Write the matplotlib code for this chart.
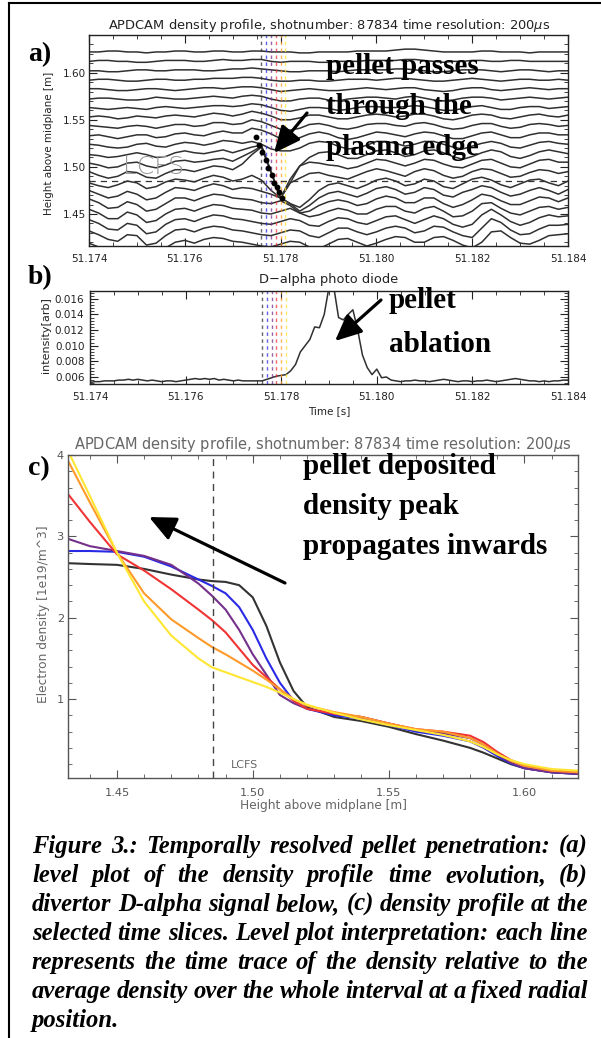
import numpy as np
import matplotlib
matplotlib.use('Agg')
import matplotlib.pyplot as plt
from matplotlib.ticker import MultipleLocator, FixedLocator
from matplotlib.lines import Line2D
from matplotlib.patches import FancyArrowPatch

W, H = 601, 1038

# ---------------- data ----------------
title_profile = "APDCAM density profile, shotnumber: 87834 time resolution: 200$\\mu$s"
title_dalpha = "D\u2212alpha photo diode"

level_t0 = 51.174
level_dt = 0.0002
level_base = [1.622, 1.612, 1.602, 1.592, 1.582, 1.572, 1.562, 1.553, 1.543, 1.533,
              1.523, 1.513, 1.503, 1.493, 1.483, 1.473, 1.463, 1.453, 1.443, 1.433, 1.423]
# deviation of each trace (mm), one value per 200 us
level_dev = [
    [0,0,1,1,0,0,-1,0,0,1, 1,0,0,1,1,0,0,1,1,0, 0,0,-1,-1,0,0,0,0,1,1, 1,1,2,3,3,2,1,0,0,0, 0,1,1,0,0,0,-1,0,0,0, 0],
    [0,1,1,0,0,-1,-1,0,1,1, 1,0,0,1,2,1,1,2,2,0, -1,0,0,0,-1,-1,0,0,0,1, 1,1,1,2,2,1,0,-1,0,0, 1,1,0,0,1,1,0,0,0,0, 0],
    [0,0,-1,-1,0,1,1,0,0,1, 1,1,0,0,1,2,2,3,2,1, 0,-1,-1,0,0,0,-1,0,1,1, 1,1,2,2,1,0,-1,-1,0,1, 1,1,0,-1,0,1,1,0,-1,0, 0],
    [0,1,1,0,-1,-1,0,1,1,0, 0,1,1,2,2,2,3,3,2,0, -1,-1,0,0,-1,-1,0,1,1,1, 0,1,2,2,1,0,-1,-1,0,1, 2,1,0,-1,0,1,1,0,0,1, 0],
    [1,1,0,-1,-1,0,1,1,0,-1, 0,1,2,2,1,2,3,3,2,0, -2,-1,0,1,0,-1,-1,0,1,2, 1,0,1,2,2,0,-1,-2,-1,1, 2,2,0,-1,0,1,2,1,0,1, 1],
    [0,1,1,0,-1,-1,0,2,1,0, 0,1,2,3,2,1,3,4,3,0, -2,-2,0,1,1,-1,-2,0,1,2, 2,1,0,2,3,1,-1,-2,-1,1, 2,2,1,-1,0,1,2,1,0,1, 2],
    [1,0,-1,0,1,0,-1,1,2,1, 0,1,2,3,3,2,3,5,4,1, -2,-3,-1,1,1,0,-2,-1,1,2, 2,1,1,2,3,2,0,-2,-2,0, 2,3,1,-1,-1,1,2,2,0,1, 2],
    [0,1,0,-2,-1,1,0,-1,1,2, 1,0,2,4,3,1,3,6,4,1, -3,-3,-1,2,2,0,-2,-2,0,2, 3,2,0,1,3,3,1,-2,-3,-1, 2,3,2,-1,-2,0,2,3,1,0, 2],
    [1,0,-1,-2,0,1,0,-2,0,2, 2,0,1,4,4,2,3,7,5,1, -3,-4,-2,2,3,1,-2,-3,-1,2, 3,3,1,0,3,4,2,-1,-3,-2, 1,3,3,0,-2,-1,2,3,2,0, 1],
    [0,1,-1,-3,-1,1,1,-2,-1,2, 3,1,0,3,5,3,3,8,6,2, -3,-5,-2,2,4,2,-2,-4,-2,1, 4,3,1,-1,2,4,3,0,-3,-3, 0,3,4,1,-2,-2,1,3,3,1, 1],
    [1,0,-2,-3,-2,1,2,-1,-2,1, 3,2,0,2,5,4,2,4,1,-4, -6,-6,-3,2,4,3,-1,-4,-3,0, 4,4,2,-1,1,4,4,1,-2,-4, -1,2,4,2,-2,-3,0,3,4,2, 1],
    [0,-1,-3,-2,0,2,0,-3,-2,2, 4,2,1,3,5,2,5,8,10,-18, -46,-30,-12,-3,2,3,0,-4,-4,0, 4,5,2,-2,0,4,5,2,-2,-5, -2,2,5,3,-2,-4,-1,3,5,3, 1],
    [1,-1,-4,-3,1,2,-2,-4,-1,3, 4,2,3,5,6,3,8,13,19,-8, -36,-16,-2,2,1,-1,-2,-5,-3,1, 5,4,1,-2,1,5,4,0,-3,-4, 0,4,5,1,-3,-4,0,4,5,2, 2],
    [2,-2,-5,-3,2,1,-4,-5,0,4, 4,2,5,8,7,4,10,20,28,1, -26,-10,-5,0,1,-2,-4,-6,-2,2, 5,3,0,-3,2,5,3,-2,-5,-3, 2,5,4,0,-4,-3,1,4,3,0, 2],
    [0,-3,-5,-2,2,0,-6,-4,1,4, 3,1,5,8,6,2,4,8,3,-8, -16,-22,-26,-18,-8,-2,0,-3,-6,-2, 3,5,2,-3,-1,4,2,-4,-6,-1, 4,6,3,-2,-5,-1,3,4,0,-3, 2],
    [2,-2,-6,-4,1,-2,-8,-6,0,5, 4,2,6,9,7,3,5,4,1,-2, -6,-12,-20,-14,-6,-1,1,-2,-5,-1, 4,6,3,-2,0,5,3,-3,-5,0, 3,7,5,0,-4,-2,2,5,2,-2, 3],
    [3,-1,-7,-6,0,-3,-10,-8,-2,4, 4,1,5,8,7,4,3,2,-1,-2, 1,-4,-12,-10,-4,0,2,0,-4,-2, 3,6,4,-1,-1,4,4,-2,-6,-3, 2,8,6,1,-3,-3,1,5,4,0, 4],
    [2,-2,-8,-8,-1,-4,-12,-10,-3,2, 3,0,4,7,6,3,2,1,-2,-3, 0,3,-2,-6,-4,0,3,1,-3,-3, 2,5,5,0,-2,3,5,0,-6,-5, 0,8,9,3,-2,-4,0,4,5,2, 4],
    [1,-3,-9,-10,-3,-5,-14,-12,-4,1, 2,-1,3,6,5,2,1,-1,-3,-4, -1,2,0,-5,-6,-1,3,2,-2,-4, 0,4,5,1,-3,1,5,2,-4,-7, -4,6,12,6,-1,-5,-2,3,6,4, 5],
    [-1,-5,-10,-12,-5,-6,-16,-14,-6,0, 1,-2,2,4,3,0,-1,-3,-5,-6, -3,0,-1,-6,-8,-3,2,2,-2,-5, -2,2,4,2,-3,-1,4,3,-2,-6, -8,2,12,8,0,-5,-4,1,5,5, 6],
    [-4,-8,-13,-15,-8,-8,-18,-16,-9,-3, -1,-4,0,2,1,-2,-3,-5,-7,-8, -5,-2,-3,-8,-10,-5,0,1,-3,-7, -4,0,3,2,-3,-3,2,3,-1,-6, -9,-3,8,9,2,-4,-5,-1,4,5, 6],
]
pellet_t = [51.17749, 51.17755, 51.17761, 51.17770, 51.17774, 51.17782, 51.17786, 51.17792, 51.17797, 51.17803]
pellet_h = [1.5319, 1.5234, 1.5160, 1.5074, 1.4990, 1.4915, 1.4830, 1.4787, 1.4734, 1.4670]
lcfs = 1.4855

slice_times = [51.1776, 51.1777, 51.1778, 51.1779, 51.1780, 51.1781]
slice_colors = ['#303030', '#2a2ae6', '#74308a', '#f03434', '#ff9a2a', '#ffe632']

dalpha_t0 = 51.174
dalpha_dt = 0.0001
dalpha_e4 = [53,54,54,55,55,55,56,56,57,56, 57,56,55,56,55,54,55,55,54,55,
             56,57,58,57,58,57,58,56,57,56, 55,56,55,55,55,55,55,57,59,61,
             62,63,68,76,92,100,108,124,123,140, 175,175,136,133,140,146,120,88,72,63,
             70,59,60,56,55,54,55,55,56,55, 55,54,55,56,57,56,55,54,55,55,
             54,55,55,56,55,54,55,56,57,58, 57,56,55,55,54,55,54,55,55,56, 56]

prof_x = [1.432, 1.44, 1.45, 1.46, 1.47, 1.48, 1.485, 1.49, 1.495, 1.50, 1.505, 1.51, 1.515,
          1.52, 1.53, 1.54, 1.55, 1.56, 1.57, 1.58, 1.585, 1.59, 1.595, 1.60, 1.61, 1.62]
prof_black  = [2.67, 2.66, 2.65, 2.60, 2.53, 2.47, 2.45, 2.44, 2.40, 2.25, 1.90, 1.45, 1.10,
               0.90, 0.78, 0.73, 0.66, 0.57, 0.49, 0.40, 0.34, 0.27, 0.20, 0.15, 0.10, 0.08]
prof_blue   = [2.82, 2.82, 2.81, 2.75, 2.63, 2.47, 2.39, 2.30, 2.13, 1.85, 1.50, 1.20, 0.98,
               0.88, 0.80, 0.76, 0.68, 0.60, 0.55, 0.48, 0.40, 0.30, 0.21, 0.15, 0.10, 0.08]
prof_purple = [2.97, 2.88, 2.82, 2.76, 2.65, 2.42, 2.27, 2.10, 1.85, 1.55, 1.30, 1.05, 0.95,
               0.88, 0.82, 0.78, 0.70, 0.62, 0.58, 0.52, 0.44, 0.32, 0.22, 0.15, 0.10, 0.08]
prof_red    = [3.52, 3.18, 2.78, 2.58, 2.35, 2.10, 1.97, 1.82, 1.62, 1.42, 1.27, 1.12, 0.98,
               0.88, 0.82, 0.78, 0.70, 0.63, 0.60, 0.55, 0.47, 0.35, 0.25, 0.18, 0.12, 0.10]
prof_orange = [3.93, 3.42, 2.80, 2.30, 1.98, 1.75, 1.64, 1.55, 1.45, 1.35, 1.24, 1.12, 1.00,
               0.92, 0.84, 0.78, 0.70, 0.63, 0.60, 0.52, 0.44, 0.33, 0.24, 0.18, 0.12, 0.10]
prof_yellow = [4.05, 3.50, 2.80, 2.20, 1.78, 1.50, 1.39, 1.33, 1.27, 1.21, 1.15, 1.08, 1.00,
               0.93, 0.83, 0.75, 0.68, 0.62, 0.56, 0.48, 0.41, 0.32, 0.25, 0.20, 0.14, 0.12]
profiles = [prof_black, prof_blue, prof_purple, prof_red, prof_orange, prof_yellow]
prof_colors = ['#333333', '#2a2ae6', '#74308a', '#f03434', '#ff9a2a', '#ffe632']

caption_lines = [
    "Figure 3.: Temporally resolved pellet penetration: (a)",
    "level plot of the density profile time evolution, (b)",
    "divertor D-alpha signal below, (c) density profile at the",
    "selected time slices. Level plot interpretation: each line",
    "represents the time trace of the density relative to the",
    "average density over the whole interval at a fixed radial",
    "position.",
]

# ---------------- figure ----------------
fig = plt.figure(figsize=(W / 100, H / 100), dpi=100)
SANS = 'DejaVu Sans'
SERIF = 'Liberation Serif'


def axrect(l, t, r, b):
    return [l / W, 1 - b / H, (r - l) / W, (b - t) / H]


def fx(x):
    return x / W


def fy(y):
    return 1 - y / H


def style(ax, col='#222222', lsize=7.5):
    ax.tick_params(which='both', direction='in', top=True, right=True, colors=col,
                   labelsize=lsize)
    ax.tick_params(which='major', length=6, width=0.8)
    ax.tick_params(which='minor', length=3, width=0.6)
    for s in ax.spines.values():
        s.set_color(col)
        s.set_linewidth(1.0)


# panel a
axa = fig.add_axes(axrect(89, 35, 568, 246))
for base, dev in zip(level_base, level_dev):
    tt = level_t0 + level_dt * np.arange(len(dev))
    axa.plot(tt, base + 0.001 * np.array(dev), color='#303030', lw=1.1)
for st, sc in zip(slice_times, slice_colors):
    axa.axvline(st, color=sc, lw=1.0, ls=(0, (2.5, 2.5)), alpha=0.75)
axa.axhline(lcfs, color='#333333', lw=0.9, ls=(0, (5, 4)))
axa.plot(pellet_t, pellet_h, 'o', color='k', ms=3.2, ls='none')
axa.set_xlim(51.174, 51.184)
axa.set_ylim(1.416, 1.640)
axa.xaxis.set_major_locator(MultipleLocator(0.002))
axa.xaxis.set_minor_locator(MultipleLocator(0.0005))
axa.yaxis.set_major_locator(FixedLocator([1.45, 1.50, 1.55, 1.60]))
axa.yaxis.set_minor_locator(MultipleLocator(0.01))
axa.xaxis.set_major_formatter(plt.FuncFormatter(lambda v, p: f"{v:.3f}"))
axa.yaxis.set_major_formatter(plt.FuncFormatter(lambda v, p: f"{v:.2f}"))
style(axa)
axa.tick_params(axis='x', pad=6)
axa.tick_params(axis='y', pad=2)
axa.text(51.1747, 1.500, "LCFS", fontsize=18, color='#9a9a9a', family=SANS,
         fontweight='light', va='center', ha='left')

fig.text(fx(329), fy(25), title_profile, ha='center', va='center', fontsize=9.4, color='#222222', family=SANS)
fig.text(fx(49), fy(143), "Height above midplane [m]", rotation=90, ha='center', va='center',
         fontsize=7.5, color='#222222', family=SANS)

# panel b
axb = fig.add_axes(axrect(90, 291, 568, 384))
tb = dalpha_t0 + dalpha_dt * np.arange(len(dalpha_e4))
axb.plot(tb, 1e-4 * np.array(dalpha_e4), color='#303030', lw=1.1)
for st, sc in zip(slice_times, slice_colors):
    axb.axvline(st, color=sc, lw=1.0, ls=(0, (2.5, 2.5)), alpha=0.75)
axb.set_xlim(51.174, 51.184)
axb.set_ylim(0.0051, 0.0170)
axb.xaxis.set_major_locator(MultipleLocator(0.002))
axb.xaxis.set_minor_locator(MultipleLocator(0.0005))
axb.yaxis.set_major_locator(MultipleLocator(0.002))
axb.yaxis.set_minor_locator(MultipleLocator(0.0004))
axb.xaxis.set_major_formatter(plt.FuncFormatter(lambda v, p: f"{v:.3f}"))
axb.yaxis.set_major_formatter(plt.FuncFormatter(lambda v, p: f"{v:.3f}"))
style(axb)
axb.tick_params(axis='x', pad=6)
axb.tick_params(axis='y', pad=4)
fig.text(fx(329), fy(280), title_dalpha, ha='center', va='center', fontsize=9.4, color='#222222', family=SANS)
fig.text(fx(329), fy(411), "Time [s]", ha='center', va='center', fontsize=7.5, color='#222222', family=SANS)
fig.text(fx(46), fy(335), "intensity[arb]", rotation=90, ha='center', va='center',
         fontsize=8.0, color='#222222', family=SANS)

# panel c
axc = fig.add_axes(axrect(68, 455, 578, 778))
for prof, pc in zip(profiles, prof_colors):
    axc.plot(prof_x, prof, color=pc, lw=1.5)
axc.axvline(lcfs, color='#444444', lw=1.0, ls=(0, (5, 4)))
axc.text(1.492, 0.19, "LCFS", fontsize=8, color='#666666', family=SANS, va='center', ha='left')
axc.set_xlim(1.432, 1.6197)
axc.set_ylim(0.03, 4.0)
axc.xaxis.set_major_locator(MultipleLocator(0.05))
axc.xaxis.set_minor_locator(MultipleLocator(0.01))
axc.yaxis.set_major_locator(FixedLocator([1, 2, 3, 4]))
axc.yaxis.set_minor_locator(MultipleLocator(0.2))
axc.xaxis.set_major_formatter(plt.FuncFormatter(lambda v, p: f"{v:.2f}"))
axc.yaxis.set_major_formatter(plt.FuncFormatter(lambda v, p: f"{int(round(v))}"))
style(axc, col='#555555', lsize=8.2)
axc.tick_params(axis='x', pad=7)
axc.tick_params(axis='y', pad=3)
fig.text(fx(323), fy(444), title_profile, ha='center', va='center', fontsize=10.5, color='#666666', family=SANS)
fig.text(fx(323), fy(805), "Height above midplane [m]", ha='center', va='center', fontsize=8.7,
         color='#666666', family=SANS)
fig.text(fx(44), fy(614), "Electron density [1e19/m^3]", rotation=90, ha='center', va='center',
         fontsize=8.8, color='#666666', family=SANS)

# panel labels
for lab, y in [("a)", 55), ("b)", 278), ("c)", 469)]:
    fig.text(fx(28), fy(y), lab, fontsize=20, fontweight='bold', family=SERIF, ha='left', va='center')

# annotations
ann_kw = dict(fontsize=21, fontweight='bold', family=SERIF, ha='left', va='center', color='k')
for s, y in [("pellet passes", 67), ("through the", 107), ("plasma edge", 147)]:
    fig.text(fx(326), fy(y), s, **ann_kw)
for s, y in [("pellet", 301), ("ablation", 344)]:
    fig.text(fx(389), fy(y), s, **ann_kw)
for s, y in [("pellet deposited", 466), ("density peak", 506), ("propagates inwards", 547)]:
    fig.text(fx(303), fy(y), s, **ann_kw)

for (x0, y0), (x1, y1) in [((307, 113), (274, 153)), ((381, 300), (335, 341)), ((285, 583), (149, 517))]:
    fig.patches.append(FancyArrowPatch(
        (fx(x0), fy(y0)), (fx(x1), fy(y1)), transform=fig.transFigure,
        arrowstyle='-|>,head_length=7,head_width=3.2', lw=2.3, color='k',
        shrinkA=0, shrinkB=0, mutation_scale=2.3))

# caption (justified)
renderer = fig.canvas.get_renderer()
cap_left, cap_right = 32, 588
cap_kw = dict(family=SERIF, fontweight='bold', fontstyle='italic', va='baseline', ha='left', color='k')


def measure(words, size):
    ts = [fig.text(0, 0, w, fontsize=size, **cap_kw) for w in words]
    ws = [t.get_window_extent(renderer).width for t in ts]
    return ts, ws


cap_size = 19.0
while cap_size > 10:
    ok = True
    for line in caption_lines[:-1]:
        ts, ws = measure(line.split(), cap_size)
        for t in ts:
            t.remove()
        if sum(ws) + 0.22 * cap_size * 100 / 72 * (len(ws) - 1) > cap_right - cap_left:
            ok = False
            break
    if ok:
        break
    cap_size -= 0.1

cap_base0 = 853
cap_step = 29.0
for i, line in enumerate(caption_lines):
    words = line.split()
    ts, ws = measure(words, cap_size)
    if i < len(caption_lines) - 1:
        gap = (cap_right - cap_left - sum(ws)) / (len(words) - 1)
    else:
        gap = cap_size * 100 / 72 * 0.25
    x = cap_left
    yb = cap_base0 + i * cap_step
    for t, w in zip(ts, ws):
        t.set_position((fx(x), fy(yb)))
        x += w + gap

# frame
fig.lines.append(Line2D([fx(9), fx(9)], [fy(3), fy(H + 5)], transform=fig.transFigure, color='k', lw=1.5))
fig.lines.append(Line2D([fx(9), fx(W + 5)], [fy(3), fy(3)], transform=fig.transFigure, color='k', lw=1.5))

fig.savefig('out.png', dpi=100)
